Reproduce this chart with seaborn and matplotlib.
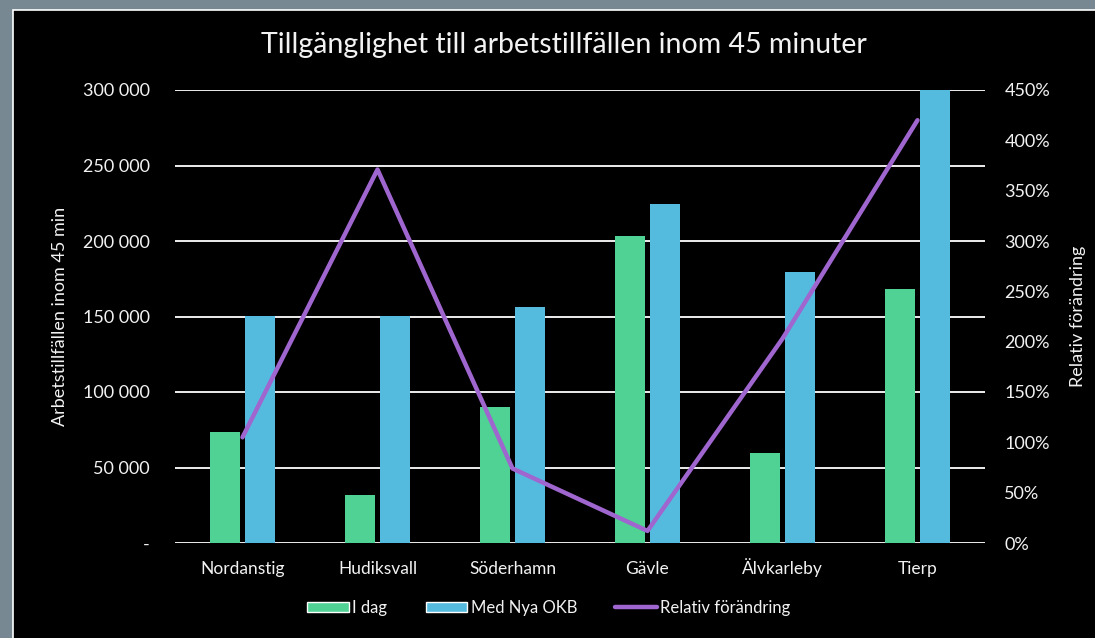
import numpy as np
import pandas as pd
import matplotlib
matplotlib.use("Agg")
import matplotlib.pyplot as plt
import seaborn as sns
from matplotlib.patches import Patch, Rectangle
from matplotlib.lines import Line2D

# --------------------------------------------------------------------------------
# Data
# --------------------------------------------------------------------------------

Kommuner = ["Nordanstig", "Hudiksvall", "Söderhamn", "Gävle", "Älvkarleby", "Tierp"]
I_dag = [73500, 31800, 90000, 203300, 59600, 168200]
Med_Nya_OKB = [150300, 150300, 156300, 224500, 179500, 300000]
Relativ = [105, 371, 74, 12, 203, 420]

Serier = ["I dag", "Med Nya OKB"]
Left_ticks = [0, 50000, 100000, 150000, 200000, 250000, 300000]
Left_labels = ["-", "50 000", "100 000", "150 000", "200 000", "250 000", "300 000"]
Right_ticks = [0, 50, 100, 150, 200, 250, 300, 350, 400, 450]

Green = "#4FD293"
Blue = "#55BBDE"
Purple = "#A066CF"
Text_col = "#F2F2F2"

df = pd.DataFrame({
    "Kommun": Kommuner * 2,
    "Antal": I_dag + Med_Nya_OKB,
    "Serie": [Serier[0]] * len(Kommuner) + [Serier[1]] * len(Kommuner),
})

# --------------------------------------------------------------------------------
# Figure
# --------------------------------------------------------------------------------

sns.set_style("dark")
plt.rcParams["font.family"] = ["Lato", "DejaVu Sans"]

fig = plt.figure(figsize=(10.95, 6.38), dpi=100)
fig.patch.set_facecolor("#778892")
fig.add_artist(Rectangle((13 / 1095, -0.05), 1.1, 1 - 10 / 638 + 0.05, transform=fig.transFigure,
                         facecolor="black", edgecolor="white", linewidth=1.2, zorder=0))

ax = fig.add_axes([175 / 1095, 1 - 543 / 638, 810 / 1095, 453 / 638])
ax.set_facecolor("black")

sns.barplot(data=df, x="Kommun", y="Antal", hue="Serie", palette=[Green, Blue],
            width=0.51, gap=0.13, saturation=1, linewidth=0, legend=False, ax=ax, zorder=3)

ax.set_ylim(0, 300000)
ax.set_yticks(Left_ticks)
ax.set_yticklabels(Left_labels)
ax.yaxis.grid(True, color="white", linewidth=1.3, zorder=1)
ax.xaxis.grid(False)
ax.set_axisbelow(True)
for s in ax.spines.values():
    s.set_visible(False)
ax.tick_params(axis="y", length=0, pad=18, labelsize=13, labelcolor=Text_col)
ax.tick_params(axis="x", length=0, pad=22, labelsize=12.5, labelcolor=Text_col)
for t in ax.get_xticklabels():
    t.set_verticalalignment("baseline")
ax.set_xlabel("")
ax.set_ylabel("Arbetstillfällen inom 45 min", color=Text_col, fontsize=13, labelpad=11)

# --------------------------------------------------------------------------------
# Relativ förändring on right axis
# --------------------------------------------------------------------------------

ax2 = ax.twinx()
sns.pointplot(x=Kommuner, y=Relativ, color=Purple, markers="", linewidth=3.2, ax=ax2)
ax2.set_ylim(0, 450)
ax2.set_xlim(ax.get_xlim())
ax2.set_yticks(Right_ticks)
ax2.set_yticklabels([f"{v}%" for v in Right_ticks])
ax2.grid(False)
ax2.set_facecolor("none")
for s in ax2.spines.values():
    s.set_visible(False)
ax2.tick_params(axis="y", length=0, pad=14, labelsize=13, labelcolor=Text_col)
ax2.set_ylabel("Relativ förändring", color=Text_col, fontsize=13, labelpad=14)

fig.suptitle("Tillgänglighet till arbetstillfällen inom 45 minuter", color=Text_col,
             fontsize=20.5, x=564 / 1095, y=1 - 45 / 638, va="center")

Handles = [Patch(facecolor=Green), Patch(facecolor=Blue), Line2D([], [], color=Purple, linewidth=3.2)]
fig.legend(Handles, ["I dag", "Med Nya OKB", "Relativ förändring"], loc="center",
           bbox_to_anchor=(549 / 1095, 1 - 608 / 638), ncol=3, frameon=False,
           labelcolor=Text_col, fontsize=12, handlelength=2.5, handleheight=0.6,
           columnspacing=2.3, handletextpad=0.2)

fig.savefig("out.png", dpi=100, facecolor=fig.get_facecolor())
